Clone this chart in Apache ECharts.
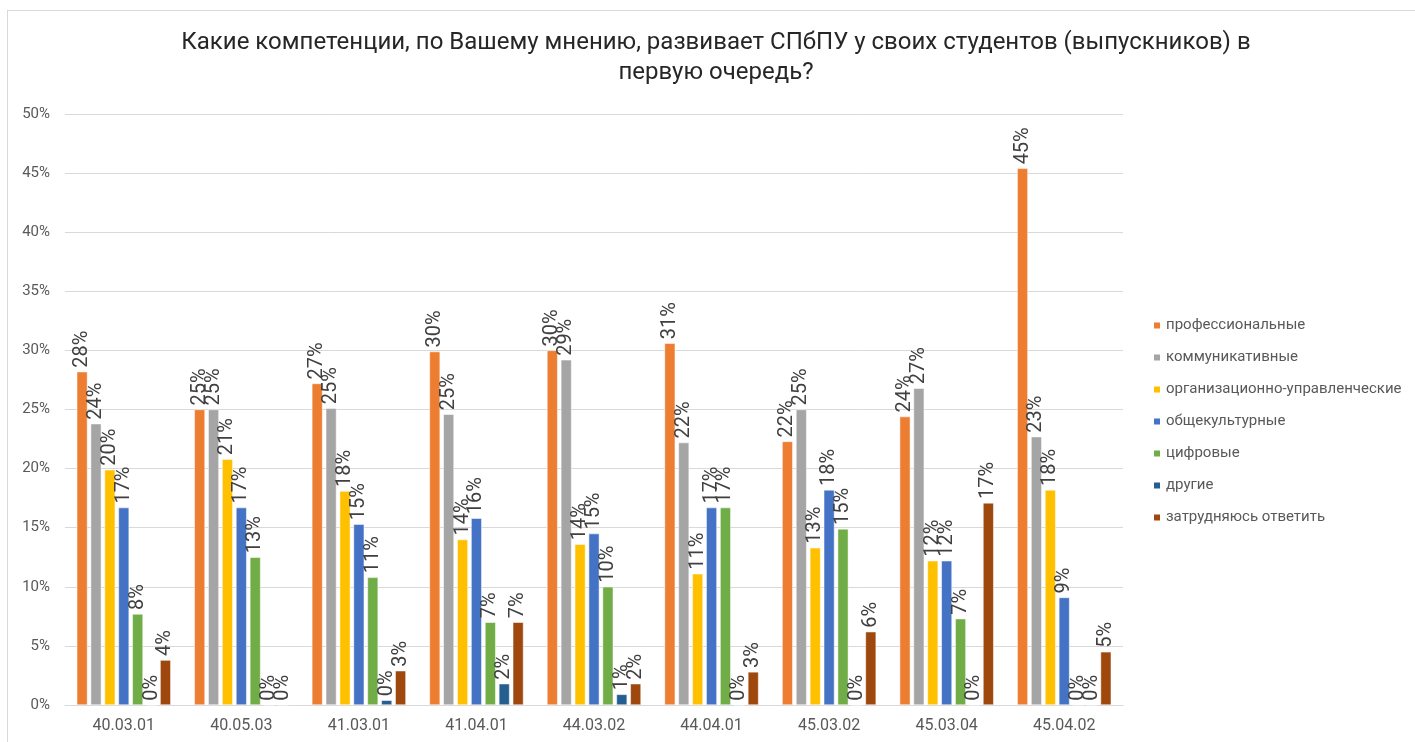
<!DOCTYPE html>
<html>
<head>
<meta charset="utf-8">
<script src="https://cdn.jsdelivr.net/npm/echarts@6/dist/echarts.min.js"></script>
<style>
  html, body { margin: 0; padding: 0; background: #ffffff; }
  #frame {
    position: absolute; left: 7px; top: 10px; width: 1420px; height: 740px;
    border-left: 1px solid #d9d9d9; border-top: 1px solid #d9d9d9;
  }
  #chart { position: absolute; left: 0; top: 0; width: 1415px; height: 742px; }
</style>
</head>
<body>
<div id="frame"></div>
<div id="chart"></div>
<script>
const categories = ['40.03.01', '40.05.03', '41.03.01', '41.04.01', '44.03.02', '44.04.01', '45.03.02', '45.03.04', '45.04.02'];

const seriesNames = [
    'профессиональные',
    'коммуникативные',
    'организационно-управленческие',
    'общекультурные',
    'цифровые',
    'другие',
    'затрудняюсь ответить'
];

// percent values
const professional = [28.2, 25.0, 27.2, 29.9, 30.0, 30.6, 22.3, 24.4, 45.4];
const communicative = [23.8, 25.0, 25.1, 24.6, 29.2, 22.2, 25.0, 26.8, 22.7];
const managerial = [19.9, 20.8, 18.1, 14.0, 13.6, 11.1, 13.3, 12.2, 18.2];
const generalCultural = [16.7, 16.7, 15.3, 15.8, 14.5, 16.7, 18.2, 12.2, 9.1];
const digital = [7.7, 12.5, 10.8, 7.0, 10.0, 16.7, 14.9, 7.3, 0];
const other = [0, 0, 0.4, 1.8, 0.9, 0, 0, 0, 0];
const hardToSay = [3.8, 0, 2.9, 7.0, 1.8, 2.8, 6.2, 17.1, 4.5];

// which zero values still get a "0%" label in the original
const zeroLabels = [
    [],
    [],
    [],
    [],
    [0, 1, 2, 3, 4, 5, 6, 7, 8],
    [0, 1, 2, 3, 4, 5, 6, 7, 8],
    [1]
];

const seriesData = [professional, communicative, managerial, generalCultural, digital, other, hardToSay];
const colors = ['#ED7D31', '#A5A5A5', '#FFC000', '#4472C4', '#70AD47', '#255E91', '#9E480E'];

const FONT = 'Roboto';

const chart = echarts.init(document.getElementById('chart'), null, { renderer: 'canvas' });

const series = seriesData.map((values, i) => ({
    name: seriesNames[i],
    type: 'bar',
    barGap: '30%',
    barCategoryGap: '20%',
    itemStyle: {
        color: colors[i],
        borderColor: '#ffffff',
        borderWidth: 0.5
    },
    label: {
        show: true,
        position: 'top',
        rotate: 90,
        align: 'left',
        verticalAlign: 'middle',
        distance: 4,
        fontFamily: FONT,
        fontSize: 20,
        color: '#404040',
        formatter: p => {
            if (p.value === 0 && zeroLabels[i].indexOf(p.dataIndex) < 0) return '';
            return Math.round(p.value) + '%';
        }
    },
    data: values
}));

chart.setOption({
    backgroundColor: 'transparent',
    animation: false,
    color: colors,
    title: {
        text: 'Какие компетенции, по Вашему мнению, развивает СПбПУ у своих студентов (выпускников) в\nпервую очередь?',
        left: 716,
        top: 28,
        padding: 0,
        textAlign: 'center',
        textStyle: {
            fontFamily: FONT,
            fontSize: 24,
            fontWeight: 'normal',
            color: '#262626',
            lineHeight: 30
        }
    },
    legend: {
        orient: 'vertical',
        left: 1147,
        top: 313,
        icon: 'rect',
        itemWidth: 8,
        itemHeight: 8,
        itemGap: 17,
        textStyle: {
            fontFamily: FONT,
            fontSize: 15,
            color: '#595959'
        },
        data: seriesNames
    },
    grid: {
        left: 65,
        right: 292,
        top: 114,
        bottom: 37
    },
    xAxis: {
        type: 'category',
        data: categories,
        axisLine: { lineStyle: { color: '#d9d9d9', width: 1 } },
        axisTick: { show: false },
        axisLabel: {
            fontFamily: FONT,
            fontSize: 16,
            color: '#595959',
            margin: 13
        }
    },
    yAxis: {
        type: 'value',
        min: 0,
        max: 50,
        interval: 5,
        axisLine: { show: false },
        axisTick: { show: false },
        splitLine: { lineStyle: { color: '#d9d9d9', width: 1 } },
        axisLabel: {
            fontFamily: FONT,
            fontSize: 15,
            color: '#595959',
            margin: 15,
            formatter: '{value}%'
        }
    },
    series: series
});
</script>
</body>
</html>
